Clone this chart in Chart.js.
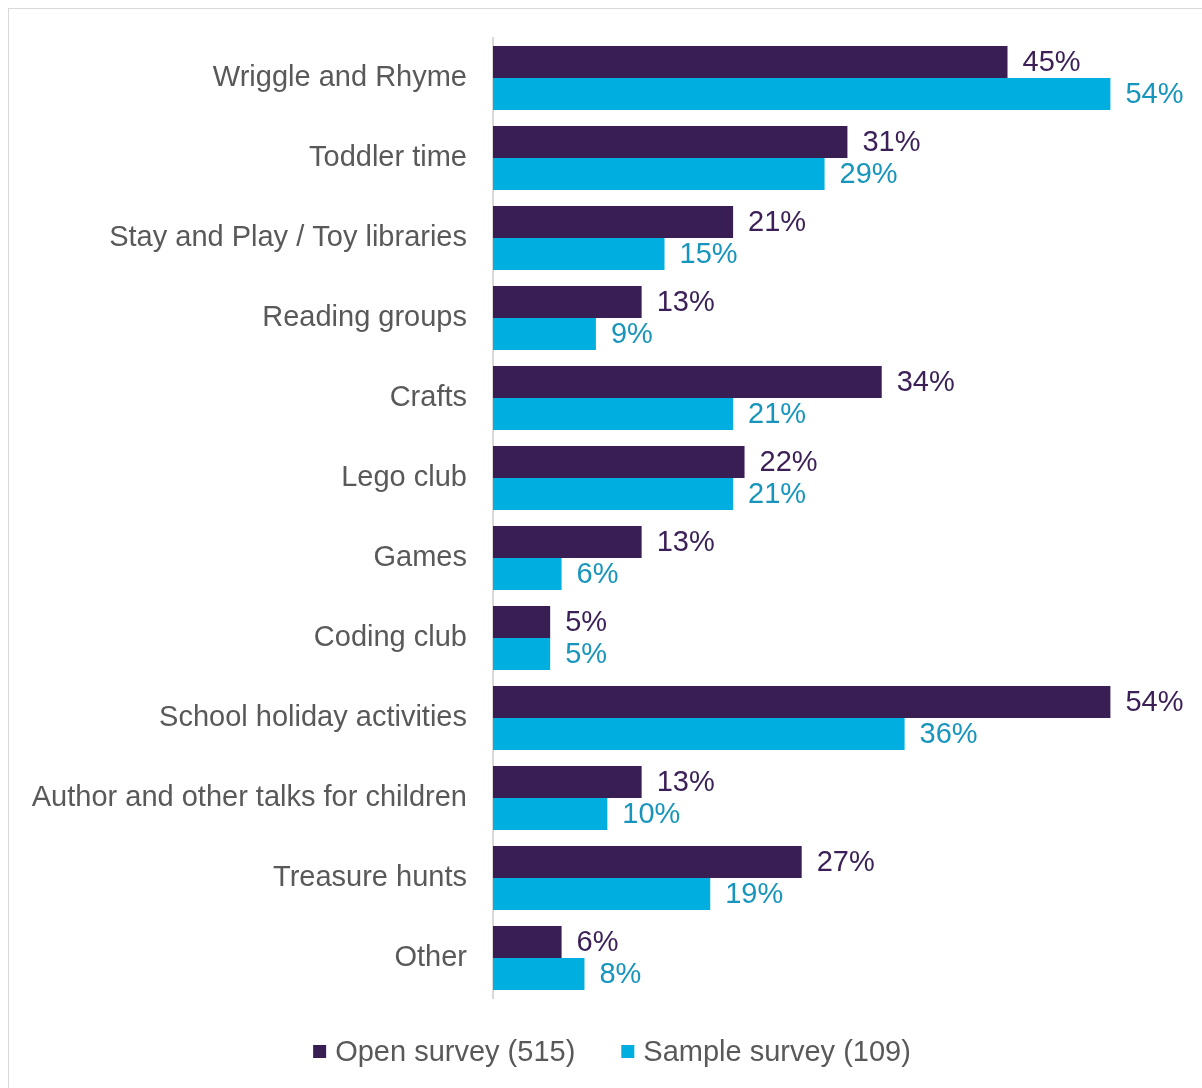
<!DOCTYPE html>
<html>
<head>
<meta charset="utf-8">
<script src="https://cdn.jsdelivr.net/npm/chart.js@4/dist/chart.umd.min.js"></script>
<style>
  html, body { margin: 0; padding: 0; background: #fff; overflow: hidden; }
  .frame { position: absolute; left: 8px; top: 8px; width: 1400px; height: 1300px; border: 1px solid #d9d9d9; }
  .wrap { position: absolute; left: 0; top: 0; width: 1202px; height: 1088px; }
</style>
</head>
<body>
<div class="frame"></div>
<div class="wrap"><canvas id="chart"></canvas></div>
<script>
const categories = [
  'Wriggle and Rhyme',
  'Toddler time',
  'Stay and Play / Toy libraries',
  'Reading groups',
  'Crafts',
  'Lego club',
  'Games',
  'Coding club',
  'School holiday activities',
  'Author and other talks for children',
  'Treasure hunts',
  'Other'
];
const openSurvey = [45, 31, 21, 13, 34, 22, 13, 5, 54, 13, 27, 6];
const sampleSurvey = [54, 29, 15, 9, 21, 21, 6, 5, 36, 10, 19, 8];
const seriesNames = ['Open survey (515)', 'Sample survey (109)'];

const FONT = '"Liberation Sans", Arial, sans-serif';
const barColors = ['#381e52', '#00aee0'];
const labelColors = ['#3b1f56', '#1895bd'];

// value labels at the end of each bar
const valueLabels = {
  id: 'valueLabels',
  afterDatasetsDraw(chart) {
    const ctx = chart.ctx;
    ctx.save();
    ctx.font = '29px ' + FONT;
    ctx.textAlign = 'left';
    ctx.textBaseline = 'middle';
    chart.data.datasets.forEach((ds, i) => {
      const meta = chart.getDatasetMeta(i);
      ctx.fillStyle = labelColors[i];
      meta.data.forEach((bar, j) => {
        ctx.fillText(ds.data[j] + '%', bar.x + 15, bar.y + 1);
      });
    });
    ctx.restore();
  }
};

// legend under the plot
const bottomLegend = {
  id: 'bottomLegend',
  afterDraw(chart) {
    const ctx = chart.ctx;
    ctx.save();
    ctx.font = '29px ' + FONT;
    ctx.textBaseline = 'middle';
    const box = 13, gapText = 9, gapItem = 46, y = 1052;
    const widths = chart.data.datasets.map(ds => ctx.measureText(ds.label).width);
    let total = 0;
    widths.forEach((w, i) => { total += box + gapText + w + (i ? gapItem : 0); });
    let x = 612 - total / 2;
    chart.data.datasets.forEach((ds, i) => {
      ctx.fillStyle = ds.backgroundColor;
      ctx.fillRect(x, y - 7, box, box);
      ctx.fillStyle = '#595959';
      ctx.fillText(ds.label, x + box + gapText, y + 1);
      x += box + gapText + widths[i] + gapItem;
    });
    ctx.restore();
  }
};

new Chart(document.getElementById('chart'), {
  type: 'bar',
  data: {
    labels: categories,
    datasets: [
      { label: seriesNames[0], data: openSurvey, backgroundColor: barColors[0] },
      { label: seriesNames[1], data: sampleSurvey, backgroundColor: barColors[1] }
    ]
  },
  options: {
    indexAxis: 'y',
    responsive: true,
    maintainAspectRatio: false,
    animation: false,
    layout: { padding: { top: 38, bottom: 90, left: 0, right: 23 } },
    datasets: { bar: { categoryPercentage: 0.8, barPercentage: 1.0 } },
    scales: {
      x: {
        min: 0,
        max: 60,
        display: false
      },
      y: {
        afterFit(scale) {
          scale.width = 493;
          scale.paddingTop = 0;
          scale.paddingBottom = 0;
        },
        grid: { display: false, drawTicks: false },
        border: { display: true, color: '#d9d9d9', width: 2 },
        ticks: {
          color: '#595959',
          font: { family: FONT, size: 29 },
          padding: 26
        }
      }
    },
    plugins: {
      legend: { display: false },
      tooltip: { enabled: false }
    }
  },
  plugins: [valueLabels, bottomLegend]
});
</script>
</body>
</html>
